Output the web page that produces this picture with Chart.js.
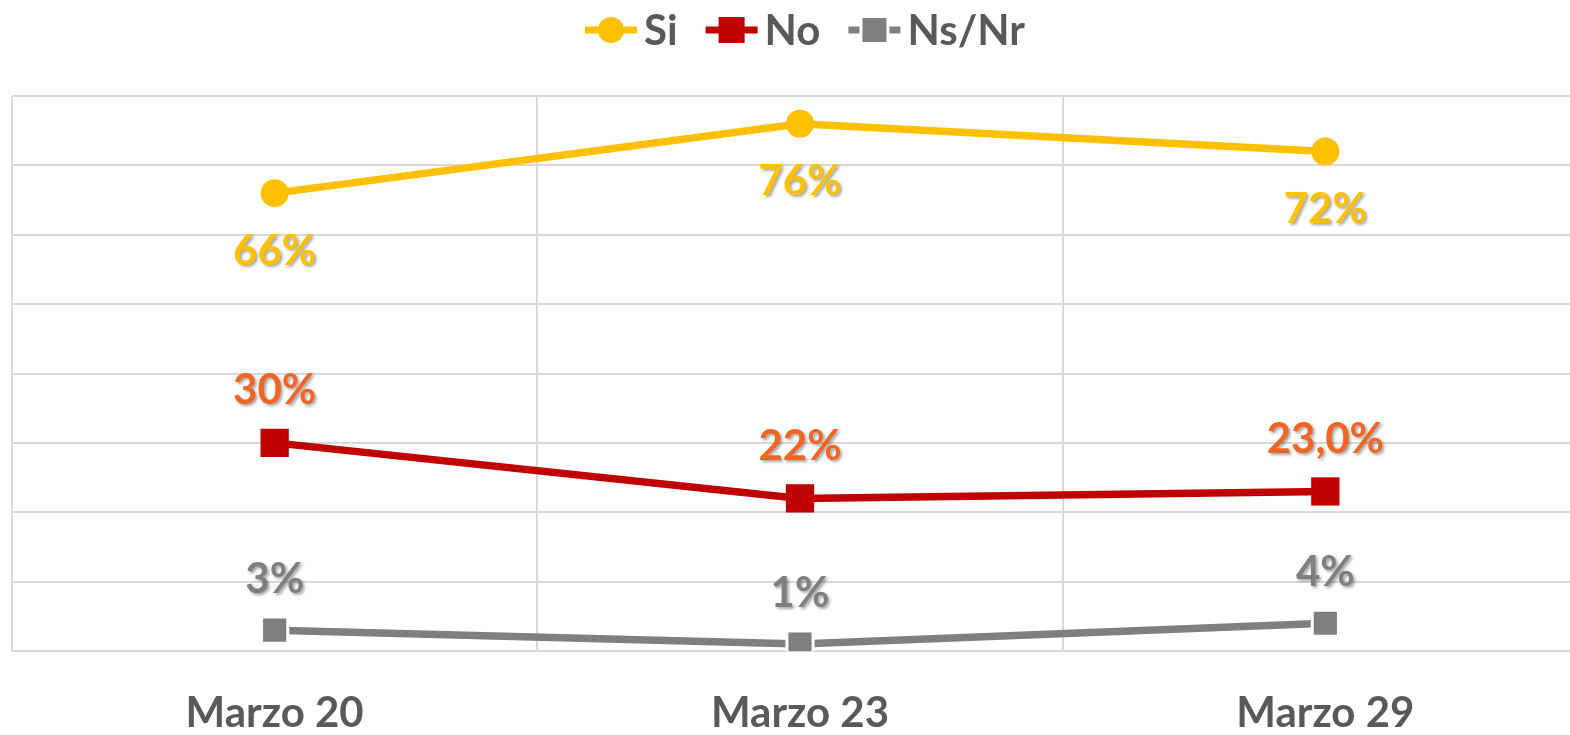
<!DOCTYPE html>
<html>
<head>
<meta charset="utf-8">
<script src="https://cdn.jsdelivr.net/npm/chart.js@4/dist/chart.umd.min.js"></script>
<style>
  html, body { margin: 0; padding: 0; background: #fff; overflow: hidden; }
  #wrap { width: 1588px; height: 735px; }
</style>
</head>
<body>
<div id="wrap"><canvas id="chart"></canvas></div>
<script>
const FONT = 'Lato, "Open Sans", sans-serif'

const categories = ['Marzo 20', 'Marzo 23', 'Marzo 29']
const siValues = [66, 76, 72]
const noValues = [30, 22, 23]
const nsValues = [3, 1, 4]
const siLabels = ['66%', '76%', '72%']
const noLabels = ['30%', '22%', '23,0%']
const nsLabels = ['3%', '1%', '4%']

// label text + where it sits relative to the point
const labelSets = [
  { text: siLabels, color: '#FFC000', dy: 58 },
  { text: noLabels, color: '#F26522', dy: -52 },
  { text: nsLabels, color: '#7F7F7F', dy: -51 }
]

const pointLabels = {
  id: 'pointLabels',
  afterDatasetsDraw(chart) {
    const ctx = chart.ctx
    ctx.save()
    ctx.font = 'bold 42px ' + FONT
    ctx.textAlign = 'center'
    ctx.textBaseline = 'middle'
    labelSets.forEach((set, i) => {
      const meta = chart.getDatasetMeta(i)
      meta.data.forEach((pt, j) => {
        ctx.shadowColor = 'rgba(0,0,0,0.35)'
        ctx.shadowOffsetX = 2
        ctx.shadowOffsetY = 2
        ctx.shadowBlur = 3
        ctx.fillStyle = set.color
        ctx.fillText(set.text[j], pt.x, pt.y + set.dy)
      })
    })
    ctx.restore()
  }
}

// legend with line + marker, like the spreadsheet one
const lineLegend = {
  id: 'lineLegend',
  afterDraw(chart) {
    const ctx = chart.ctx
    const ds = chart.data.datasets
    ctx.save()
    ctx.font = 'bold 42px ' + FONT
    ctx.textBaseline = 'middle'
    const sym = 52, gapSym = 7, gapItem = 28
    const widths = ds.map(d => sym + gapSym + ctx.measureText(d.label).width)
    const total = widths.reduce((a, b) => a + b, 0) + gapItem * (ds.length - 1)
    let x = 805 - total / 2
    const y = 30
    ds.forEach((d, i) => {
      ctx.strokeStyle = d.borderColor
      ctx.lineWidth = 7
      if (d.pointStyle === 'circle') {
        ctx.beginPath(); ctx.moveTo(x, y); ctx.lineTo(x + sym, y); ctx.stroke()
        ctx.fillStyle = d.borderColor
        ctx.beginPath(); ctx.arc(x + sym / 2, y, 13, 0, Math.PI * 2); ctx.fill()
      } else if (i === 1) {
        ctx.beginPath(); ctx.moveTo(x, y); ctx.lineTo(x + sym, y); ctx.stroke()
        ctx.fillStyle = d.borderColor
        ctx.fillRect(x + sym / 2 - 13, y - 13, 26, 26)
      } else {
        ctx.beginPath(); ctx.moveTo(x, y); ctx.lineTo(x + 11, y); ctx.stroke()
        ctx.beginPath(); ctx.moveTo(x + sym - 11, y); ctx.lineTo(x + sym, y); ctx.stroke()
        ctx.fillStyle = d.borderColor
        ctx.fillRect(x + sym / 2 - 12, y - 12, 24, 24)
      }
      ctx.fillStyle = '#595959'
      ctx.fillText(d.label, x + sym + gapSym, y + 1)
      x += widths[i] + gapItem
    })
    ctx.restore()
  }
}

new Chart(document.getElementById('chart'), {
  type: 'line',
  data: {
    labels: categories,
    datasets: [
      {
        label: 'Si',
        data: siValues,
        borderColor: '#FFC000',
        backgroundColor: '#FFC000',
        borderWidth: 7.5,
        pointStyle: 'circle',
        pointRadius: 14,
        pointBorderWidth: 0
      },
      {
        label: 'No',
        data: noValues,
        borderColor: '#C00000',
        backgroundColor: '#C00000',
        borderWidth: 7.5,
        pointStyle: 'rect',
        pointRadius: 20,
        pointBorderWidth: 0
      },
      {
        label: 'Ns/Nr',
        data: nsValues,
        borderColor: '#7F7F7F',
        backgroundColor: '#7F7F7F',
        borderWidth: 7.5,
        pointStyle: 'rect',
        pointRadius: 18.5,
        pointBorderColor: '#FFFFFF',
        pointBorderWidth: 3
      }
    ]
  },
  options: {
    responsive: true,
    maintainAspectRatio: false,
    animation: false,
    layout: { autoPadding: false, padding: { top: 96, left: 12, right: 0, bottom: 0 } },
    plugins: {
      legend: { display: false },
      tooltip: { enabled: false }
    },
    scales: {
      x: {
        offset: true,
        grid: { offset: true, color: '#D9D9D9', lineWidth: 2, drawTicks: false },
        border: { display: false },
        afterFit(scale) { scale.height = 84 },
        ticks: {
          padding: 39,
          color: '#595959',
          font: { family: FONT, size: 42, weight: 'bold', lineHeight: 1.1 }
        }
      },
      y: {
        min: 0,
        max: 80,
        ticks: { stepSize: 10, display: false },
        grid: { color: '#D9D9D9', lineWidth: 2, drawTicks: false },
        border: { display: false }
      }
    }
  },
  plugins: [pointLabels, lineLegend]
})
</script>
</body>
</html>
